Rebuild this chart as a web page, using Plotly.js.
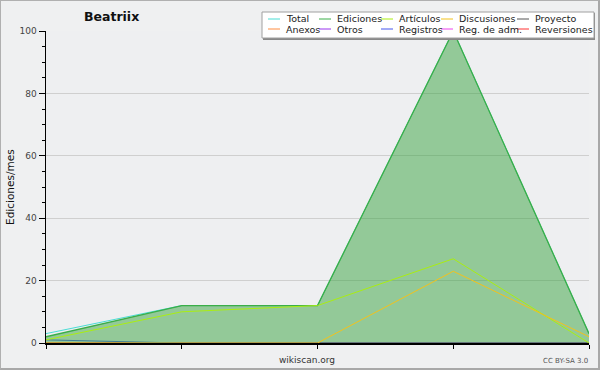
<!DOCTYPE html>
<html>
<head>
<meta charset="utf-8">
<script src="https://cdn.plot.ly/plotly-3.0.1.min.js"></script>
<style>
  html, body { margin: 0; padding: 0; background: #eff0f1; }
  #wrap { position: relative; width: 600px; height: 370px; }
  #chart { width: 600px; height: 370px; }
  #frame { position: absolute; left: 0; top: 0; width: 600px; height: 370px; box-sizing: border-box;
           border-top: 1px solid #b0b0b0; border-left: 1px solid #b0b0b0;
           border-right: 2px solid #a8a8a8; border-bottom: 2px solid #a8a8a8; pointer-events: none; }
</style>
</head>
<body>
<div id="wrap"><div id="chart"></div><div id="frame"></div></div>
<script>
// ---- data ----
const periods = [0, 1, 2, 3, 4];
const seriesNames = ['Total', 'Ediciones', 'Artículos', 'Discusiones', 'Proyecto',
                     'Anexos', 'Otros', 'Registros', 'Reg. de adm.', 'Reversiones'];
const seriesColors = ['#48dcd4', '#3aae48', '#aaee11', '#f2c21c', '#555555',
                      '#ff8c40', '#9933ee', '#4455ee', '#ee44ee', '#ff3333'];
const total       = [3, 12, 12, 100, 3];
const ediciones   = [2, 12, 12, 100, 3];
const articulos   = [1, 10, 12, 27, 0];
const discusiones = [0, 0, 0, 23, 2];
const proyecto    = [0, 0, 0, 0, 0];
const anexos      = [0, 0, 0, 0, 0];
const otros       = [0, 0, 0, 0, 0];
const registros   = [1, 0, 0, 0, 0];
const regAdm      = [0, 0, 0, 0, 0];
const reversiones = [0, 0, 0, 0, 0];
const seriesValues = [total, ediciones, articulos, discusiones, proyecto,
                      anexos, otros, registros, regAdm, reversiones];
const yTickVals = [0, 20, 40, 60, 80, 100];
const chartTitle = 'Beatriix';
const yTitle = 'Ediciones/mes';
const xTitle = 'wikiscan.org';
const licence = 'CC BY-SA 3.0';

// ---- layout geometry ----
const W = 600, H = 370;
const M = {l: 46, r: 11, t: 31, b: 27};
const PW = W - M.l - M.r, PH = H - M.t - M.b;
const px = x => (x - M.l) / PW;
const py = y => (H - M.b - y) / PH;
const font = 'DejaVu Sans, Verdana, sans-serif';

// draw order: zero lines first, then the main ones
const drawOrder = [4, 5, 6, 8, 9, 7, 0, 1, 2, 3];
const traces = drawOrder.map(i => {
  const t = {
    x: periods, y: seriesValues[i], name: seriesNames[i], type: 'scatter', mode: 'lines',
    line: {color: seriesColors[i], width: 1}, showlegend: false, hoverinfo: 'skip'
  };
  if (i === 1) { t.fill = 'tozeroy'; t.fillcolor = 'rgba(56,163,63,0.5)'; t.line.width = 1.3; }
  return t;
});

// ---- legend (custom, 2 rows x 5 columns) ----
const legLeft = 262, legRight = 594, legTop = 12, legBottom = 38;
const colText = [284, 335, 397, 457, 533];
const rowY = [19, 29];
const shapes = [
  {type: 'rect', xref: 'paper', yref: 'paper', x0: px(legLeft + 1), x1: px(legRight + 1), y0: py(legBottom + 2), y1: py(legTop + 1),
   fillcolor: '#888888', line: {width: 0}, layer: 'above'},
  {type: 'rect', xref: 'paper', yref: 'paper', x0: px(legLeft), x1: px(legRight), y0: py(legBottom), y1: py(legTop),
   fillcolor: '#ffffff', line: {color: '#a0a0a0', width: 1}, layer: 'above'}
];
const annotations = [];
seriesNames.forEach((name, i) => {
  const col = i % 5, row = Math.floor(i / 5);
  const tx = colText[col], ty = rowY[row];
  shapes.push({type: 'line', xref: 'paper', yref: 'paper', x0: px(tx - 16), x1: px(tx - 4), y0: py(ty), y1: py(ty),
               line: {color: seriesColors[i], width: 1}, layer: 'above'});
  annotations.push({xref: 'paper', yref: 'paper', x: px(tx), y: py(ty), xanchor: 'left', yanchor: 'middle',
                    text: name, showarrow: false, font: {family: font, size: 9.5, color: '#222'}});
});
annotations.push({xref: 'paper', yref: 'paper', x: px(307), y: py(360), xanchor: 'center', yanchor: 'middle',
                  text: xTitle, showarrow: false, font: {family: font, size: 9, color: '#333'}});
annotations.push({xref: 'paper', yref: 'paper', x: px(590), y: py(361), xanchor: 'right', yanchor: 'middle',
                  text: licence, showarrow: false, font: {family: font, size: 7, color: '#555'}});
annotations.push({xref: 'paper', yref: 'paper', x: px(10), y: py(187), xanchor: 'center', yanchor: 'middle',
                  textangle: -90, text: yTitle, showarrow: false, font: {family: font, size: 10.5, color: '#111'}});

const layout = {
  width: W, height: H, margin: M,
  paper_bgcolor: '#eff0f1', plot_bgcolor: '#eeeff1',
  title: {text: chartTitle, xref: 'container', yref: 'container', x: 84 / W, y: 1 - 17 / H,
          xanchor: 'left', yanchor: 'middle', font: {family: font, size: 12.5, weight: 'bold', color: '#111'}},
  showlegend: false,
  xaxis: {range: [0, 4], tickvals: periods, ticktext: periods.map(() => ''), ticks: 'outside', ticklen: 4,
          tickcolor: '#000', showline: true, linecolor: '#000', linewidth: 1.5, showgrid: false, zeroline: false,
          layer: 'above traces', fixedrange: true},
  yaxis: {range: [0, 100], tickvals: yTickVals, ticks: 'outside', ticklen: 6, tickcolor: '#000',
          showline: true, linecolor: '#000', linewidth: 1.5, gridcolor: '#cfcfcf', gridwidth: 1, zeroline: false,
          tickfont: {family: font, size: 9, color: '#444'},
          minor: {dtick: 5, ticks: 'outside', ticklen: 3, tickcolor: '#000', showgrid: false},
          automargin: false, layer: 'above traces', fixedrange: true},
  shapes: shapes, annotations: annotations
};

Plotly.newPlot('chart', traces, layout, {staticPlot: true, displayModeBar: false});
</script>
</body>
</html>
